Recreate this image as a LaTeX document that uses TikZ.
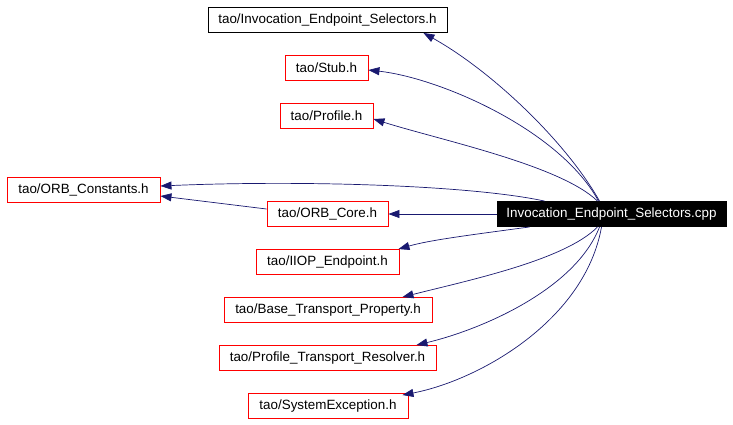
\documentclass[tikz,border=0pt]{standalone}
\usepackage{fontspec}
\setmainfont{Liberation Sans}
\usetikzlibrary{arrows.meta}
\definecolor{edgeblue}{HTML}{191970}
\definecolor{boxred}{HTML}{FF0000}
\tikzset{
  file/.style={draw=boxred, line width=0.9pt, fill=white, minimum height=25pt, inner xsep=6pt, inner ysep=0pt, font=\fontsize{13.4}{15}\selectfont},
  blackfile/.style={file, draw=black},
  mainfile/.style={file, draw=black, fill=black, text=white},
  dep/.style={draw=edgeblue, line width=0.7pt, -{Triangle[length=11pt,width=8pt]}},
}
\begin{document}
\begin{tikzpicture}[x=1pt,y=-1pt]
\useasboundingbox (0,0) rectangle (733,424);
\node[blackfile, minimum width=239pt] (ies) at (327.5,20) {tao/Invocation\_Endpoint\_Selectors.h};
\node[file, minimum width=83pt] (stub) at (326.5,68) {tao/Stub.h};
\node[file, minimum width=93pt] (prof) at (326.5,116) {tao/Profile.h};
\node[file, minimum width=153pt] (orbc) at (83.5,190) {tao/ORB\_Constants.h};
\node[file, minimum width=121pt] (core) at (327.5,214) {tao/ORB\_Core.h};
\node[mainfile, minimum width=229pt] (cpp) at (611.5,214) {Invocation\_Endpoint\_Selectors.cpp};
\node[file, minimum width=143pt] (iiop) at (327.5,262) {tao/IIOP\_Endpoint.h};
\node[file, minimum width=208pt] (btp) at (328,310) {tao/Base\_Transport\_Property.h};
\node[file, minimum width=217pt] (ptr) at (327.5,358) {tao/Profile\_Transport\_Resolver.h};
\node[file, minimum width=160pt] (sysx) at (328,406) {tao/SystemException.h};

\draw[dep] ([xshift=-12pt]cpp.north) .. controls (565,140) and (490,70) .. ([xshift=-24pt]ies.south east);
\draw[dep] ([xshift=-13pt]cpp.north) .. controls (560,130) and (440,78) .. ([yshift=-2pt]stub.east);
\draw[dep] ([xshift=-14pt]cpp.north) .. controls (560,165) and (440,140) .. ([yshift=-3pt]prof.east);
\draw[dep] ([xshift=48pt]cpp.north west) .. controls (470,185) and (300,180) .. ([yshift=4pt]orbc.east);
\draw[dep] (cpp.west) -- (core.east);
\draw[dep] ([yshift=5pt]core.west) -- ([yshift=-6pt]orbc.east);
\draw[dep] ([xshift=33pt]cpp.south west) .. controls (470,235) and (430,240) .. ([xshift=-1pt]iiop.north east);
\draw[dep] ([xshift=-14pt]cpp.south) .. controls (565,260) and (470,280) .. ([xshift=-30pt]btp.north east);
\draw[dep] ([xshift=-12pt]cpp.south) .. controls (575,290) and (480,330) .. ([xshift=-20pt]ptr.north east);
\draw[dep] ([xshift=-10pt]cpp.south) .. controls (585,320) and (480,380) .. ([xshift=-6pt,yshift=-2pt]sysx.north east);
\end{tikzpicture}
\end{document}
